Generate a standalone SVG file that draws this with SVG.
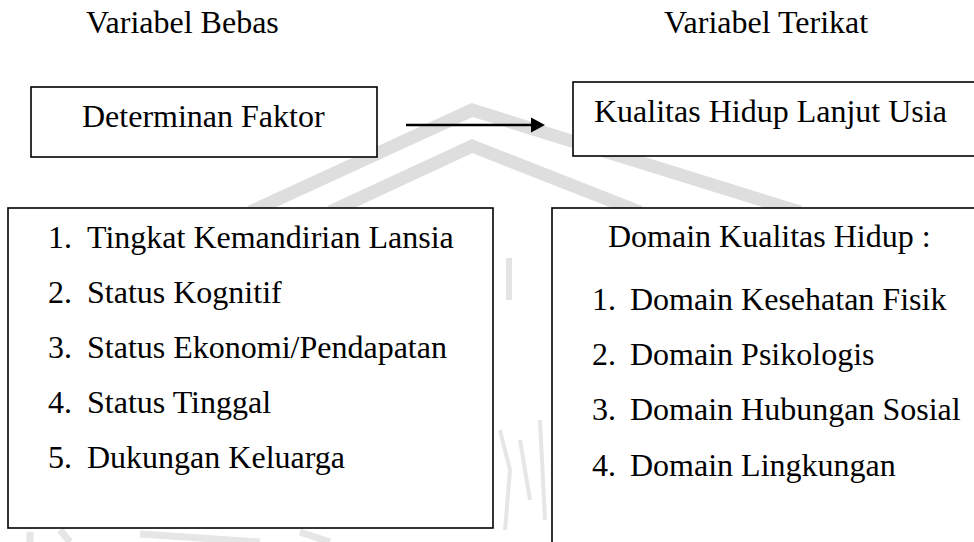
<svg xmlns="http://www.w3.org/2000/svg" width="974" height="542" viewBox="0 0 974 542">
  <style>
    text { font-family: 'Liberation Serif', 'DejaVu Serif', serif; font-size: 32px; fill: #000; }
    .box { fill: #fff; stroke: #000; stroke-width: 1.6; }
    .wm { fill: none; stroke: #dedede; stroke-linejoin: miter; }
    .conn { stroke: #000; stroke-width: 2.6; fill: none; }
    .head { fill: #000; }
  </style>
  <rect width="974" height="542" fill="#fff"/>

  <!-- faint watermark -->
  <g id="watermark">
    <path class="wm" d="M250,212 L472,110 L800,212" stroke-width="13"/>
    <path class="wm" d="M330,212 L472,146 L640,212" stroke-width="13"/>
    <rect x="506" y="258" width="6" height="42" fill="#e4e4e4"/>
    <path d="M500,430 L510,470 L505,530 M520,440 L530,500 M540,420 L545,520" stroke="#e6e6e6" stroke-width="4" fill="none"/>
    <path d="M30,532 L30,542 M60,530 L70,542 M140,534 L260,542 M300,532 L330,542" stroke="#e6e6e6" stroke-width="7" fill="none"/>
  </g>

  <g font-family="Liberation Serif, DejaVu Serif, serif" font-size="32">
    <text x="86" y="33">Variabel Bebas</text>
    <text x="664" y="33">Variabel Terikat</text>

    <g id="determinan">
      <rect class="box" x="31" y="87" width="346" height="70"/>
      <text x="82" y="127">Determinan Faktor</text>
    </g>

    <g id="kualitas">
      <rect class="box" x="573" y="82" width="420" height="74"/>
      <text x="594" y="122">Kualitas Hidup Lanjut Usia</text>
    </g>

    <g id="faktor-list">
      <rect class="box" x="8" y="208" width="485" height="320"/>
      <text x="48" y="248">1.</text><text x="87" y="248">Tingkat Kemandirian Lansia</text>
      <text x="48" y="303">2.</text><text x="87" y="303">Status Kognitif</text>
      <text x="48" y="358">3.</text><text x="87" y="358">Status Ekonomi/Pendapatan</text>
      <text x="48" y="413">4.</text><text x="87" y="413">Status Tinggal</text>
      <text x="48" y="468">5.</text><text x="87" y="468">Dukungan Keluarga</text>
    </g>

    <g id="domain-list">
      <rect class="box" x="552" y="208" width="440" height="360"/>
      <text x="608" y="247">Domain Kualitas Hidup :</text>
      <text x="592" y="310">1.</text><text x="630" y="310">Domain Kesehatan Fisik</text>
      <text x="592" y="365">2.</text><text x="630" y="365">Domain Psikologis</text>
      <text x="592" y="420">3.</text><text x="630" y="420">Domain Hubungan Sosial</text>
      <text x="592" y="476">4.</text><text x="630" y="476">Domain Lingkungan</text>
    </g>
  </g>

  <g id="connectors">
    <line class="conn" x1="406" y1="125" x2="533" y2="125"/>
    <polygon class="head" points="531,117.5 545,125 531,132.5"/>
  </g>
</svg>
